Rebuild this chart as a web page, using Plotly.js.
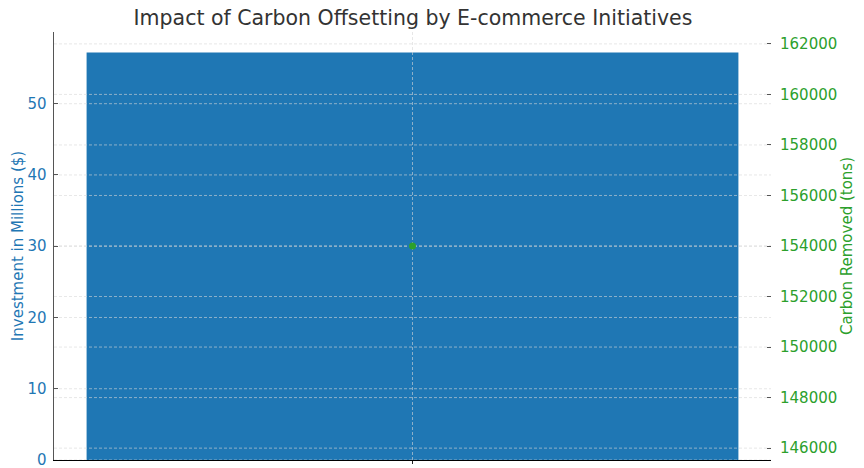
<!DOCTYPE html>
<html>
<head>
<meta charset="utf-8">
<script src="https://cdn.plot.ly/plotly-3.0.1.min.js"></script>
<style>html,body{margin:0;padding:0;background:#fff}#chart{width:864px;height:468px}</style>
</head>
<body>
<div id="chart"></div>
<script>
const categories = ["E-commerce Initiatives"];
const investment = [57.2];
const carbonRemoved = [154000];
const leftTicks = [0, 10, 20, 30, 40, 50];
const rightTicks = [146000, 148000, 150000, 152000, 154000, 156000, 158000, 160000, 162000];

const blue = '#1f77b4';
const green = '#2ca02c';
const gridColor = 'rgba(215,215,215,0.75)';
const xPos = categories.map((c, i) => i);
const xRange = [-0.44, 0.44];

function hGrid(ticks, axis) {
  const xs = [], ys = [];
  ticks.forEach(v => { xs.push(xRange[0], xRange[1], null); ys.push(v, v, null); });
  return {type: 'scatter', mode: 'lines', x: xs, y: ys, yaxis: axis,
          line: {color: gridColor, width: 0.8, dash: '3px,2px'}, hoverinfo: 'skip'};
}
function vGrid() {
  const xs = [], ys = [];
  xPos.forEach(p => { xs.push(p, p, null); ys.push(0, 60.06, null); });
  return {type: 'scatter', mode: 'lines', x: xs, y: ys, yaxis: 'y',
          line: {color: gridColor, width: 0.8, dash: '3px,2px'}, hoverinfo: 'skip'};
}

const traces = [
  {type: 'bar', x: xPos, y: investment, width: 0.8, marker: {color: blue}, yaxis: 'y', text: categories, hoverinfo: 'skip', textposition: 'none'},
  hGrid(leftTicks, 'y'),
  hGrid(rightTicks, 'y2'),
  vGrid(),
  {type: 'scatter', mode: 'markers', x: xPos, y: carbonRemoved, yaxis: 'y2', marker: {color: green, size: 7}}
];

const layout = {
  width: 864, height: 468,
  margin: {l: 54, r: 93, t: 32, b: 8},
  paper_bgcolor: '#fff', plot_bgcolor: '#fff',
  font: {family: 'DejaVu Sans, sans-serif', size: 15},
  showlegend: false,
  title: {text: 'Impact of Carbon Offsetting by E-commerce Initiatives', font: {size: 20.5, color: '#333'}, x: 0.478, xanchor: 'center', y: 0.962, yanchor: 'middle'},
  xaxis: {range: xRange, tickvals: xPos, showgrid: false, showticklabels: false, ticks: 'outside', ticklen: 3, tickcolor: '#222',
          showline: true, linecolor: '#000', linewidth: 1.2, zeroline: false, fixedrange: true},
  yaxis: {range: [0, 60.06], tickvals: leftTicks, showgrid: false, zeroline: false, showline: true, linecolor: '#555', linewidth: 1.5,
          ticks: 'inside', ticklen: 4, tickcolor: '#555', ticklabelstandoff: 3, ticklabeloverflow: 'allow',
          tickfont: {color: blue, size: 15},
          title: {text: 'Investment in Millions ($)', font: {color: blue, size: 15}, standoff: 0}},
  yaxis2: {range: [145530, 162470], tickvals: rightTicks, tickformat: 'd', overlaying: 'y', side: 'right', showgrid: false, zeroline: false,
           showline: false, ticks: 'inside', ticklen: 4, tickcolor: '#555', ticklabelstandoff: 8, ticklabeloverflow: 'allow',
           tickfont: {color: green, size: 15},
           title: {text: 'Carbon Removed (tons)', font: {color: green, size: 15}, standoff: 5}}
};

Plotly.newPlot('chart', traces, layout, {displayModeBar: false, staticPlot: true});
</script>
</body>
</html>
